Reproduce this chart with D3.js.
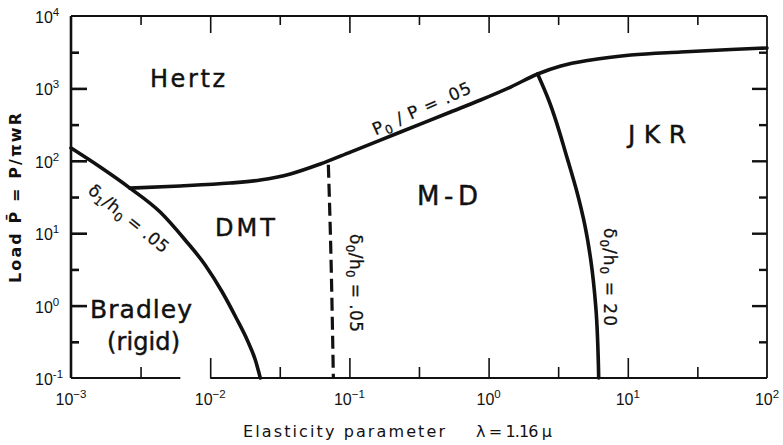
<!DOCTYPE html>
<html><head><meta charset="utf-8">
<script src="https://cdn.jsdelivr.net/npm/d3@7"></script>
<style>
body{margin:0;background:#fff}
svg{display:block;background:#fff}
text{font-family:"DejaVu Sans",sans-serif;fill:#111}
</style>
</head><body>
<svg id="c" width="783" height="445"></svg>
<script>
// ---- tick definitions ----
const xMajorTicks = [0.001, 0.01, 0.1, 1, 10, 100];
const xMinorTicks = [0.00316, 0.0316, 0.316, 3.16, 31.6];
const yMajorTicks = [0.1, 1, 10, 100, 1000, 10000];
const yMinorTicks = [0.316, 3.16, 31.6, 316, 3162];
const xTickExponents = ["−3", "−2", "−1", "0", "1", "2"];
const yTickExponents = ["-1", "0", "1", "2", "3", "4"];
const xAxisBreak = [0.0061, 0.0100];

// ---- boundary curves (lambda, load) ----
const delta1Lambda = [0.001, 0.00162, 0.00265, 0.00437, 0.00661, 0.00920, 0.0122, 0.01538, 0.01845, 0.0211, 0.0229];
const delta1Load   = [150, 82, 42, 19.6, 8.06, 3.64, 1.54, 0.674, 0.335, 0.177, 0.1];

const hertzLambda = [0.00265, 0.00608, 0.0139, 0.0229, 0.0377, 0.0618, 0.1017, 0.233, 0.533, 0.875, 1.44, 2.25, 3.30, 5.42, 10.5, 24.0, 55.1, 100];
const hertzLoad   = [42, 44.9, 49.3, 54.3, 65.8, 90.3, 132, 250, 472, 692, 1045, 1580, 2037, 2466, 2891, 3183, 3446, 3613];

const dashLambda = [0.0706, 0.0730, 0.0767];
const dashLoad   = [88, 10, 0.1];

const jkrLambda = [2.25, 2.70, 3.70, 4.37, 4.91, 5.42, 5.89, 6.18];
const jkrLoad   = [1580, 692, 103, 33.7, 13.0, 4.26, 0.957, 0.1];

// ---- setup ----
const svg = d3.select("#c");
const x = d3.scaleLog().domain([1e-3, 1e2]).range([71, 767]);
const y = d3.scaleLog().domain([0.1, 1e4]).range([378, 16]);
const X0 = x.range()[0], X1 = x.range()[1], Y0 = y.range()[0], Y1 = y.range()[1];

function axis(gen, vals, size, tr, sw) {
  const g = svg.append("g").attr("transform", tr)
    .call(gen.tickValues(vals).tickSize(size).tickFormat(""));
  g.select(".domain").remove();
  g.selectAll("line").attr("stroke", "#111").attr("stroke-width", sw);
  return g;
}
// bottom (ticks up)
axis(d3.axisTop(x), xMajorTicks.slice(1, -1), 20, `translate(0,${Y0})`, 1.6);
axis(d3.axisTop(x), xMinorTicks, 11, `translate(0,${Y0})`, 1.6);
// top (ticks down)
axis(d3.axisBottom(x), xMajorTicks.slice(1, -1), 17, `translate(0,${Y1})`, 1.6);
axis(d3.axisBottom(x), xMinorTicks, 9, `translate(0,${Y1})`, 1.6);
// left (ticks right)
axis(d3.axisRight(y), yMajorTicks.slice(1, -1), 16, `translate(${X0},0)`, 2.6);
axis(d3.axisRight(y), yMinorTicks, 8, `translate(${X0},0)`, 2.6);
// right (ticks left)
axis(d3.axisLeft(y), yMajorTicks.slice(1, -1), 15, `translate(${X1},0)`, 2.4);
axis(d3.axisLeft(y), yMinorTicks, 8, `translate(${X1},0)`, 2.4);

// frame lines
const frame = svg.append("g").attr("stroke", "#111").attr("fill", "none");
frame.append("line").attr("x1", X0).attr("x2", X0).attr("y1", Y1).attr("y2", Y0).attr("stroke-width", 2.6);
frame.append("line").attr("x1", X0).attr("x2", X1).attr("y1", Y1).attr("y2", Y1).attr("stroke-width", 2);
frame.append("line").attr("x1", X1).attr("x2", X1).attr("y1", Y1).attr("y2", Y0).attr("stroke-width", 1.8);
frame.append("line").attr("x1", X0).attr("x2", x(xAxisBreak[0])).attr("y1", Y0).attr("y2", Y0).attr("stroke-width", 2);
frame.append("line").attr("x1", x(xAxisBreak[1])).attr("x2", X1).attr("y1", Y0).attr("y2", Y0).attr("stroke-width", 2);

// tick labels
const tickFont = "'Liberation Sans', Arial, sans-serif";
const xl = svg.append("g").attr("font-size", 16);
xMajorTicks.forEach((v, i) => {
  const t = xl.append("text").attr("x", x(v)).attr("y", 405).attr("text-anchor", "middle").style("font-family", tickFont);
  t.append("tspan").text("10");
  t.append("tspan").attr("font-size", 11.5).attr("dy", -7).text(xTickExponents[i]);
});
const yl = svg.append("g").attr("font-size", 16);
yMajorTicks.forEach((v, i) => {
  const t = yl.append("text").attr("x", 35).attr("y", y(v) + 7).attr("text-anchor", "start").style("font-family", tickFont);
  t.append("tspan").text("10");
  t.append("tspan").attr("font-size", 11.5).attr("dy", -7).text(yTickExponents[i]);
});

// axis titles
svg.append("text").attr("x", 243).attr("y", 437).attr("font-size", 16)
  .attr("textLength", 202).attr("lengthAdjust", "spacing").text("Elasticity parameter");
svg.append("text").attr("x", 476).attr("y", 437).attr("font-size", 16)
  .attr("textLength", 76).attr("lengthAdjust", "spacing").text("λ = 1.16 μ");
svg.append("text").attr("transform", "translate(21,198) rotate(-90)").attr("text-anchor", "middle")
  .attr("font-size", 16).attr("font-weight", "bold")
  .attr("textLength", 170).attr("lengthAdjust", "spacing").text("Load  P\u0304 = P/\u03C0wR");

// curves
const line = d3.line().x(d => x(d[0])).y(d => y(d[1])).curve(d3.curveMonotoneX);
const lineV = d3.line().x(d => x(d[0])).y(d => y(d[1])).curve(d3.curveMonotoneY);
const curves = svg.append("g").attr("fill", "none").attr("stroke", "#111").attr("stroke-linecap", "round");
curves.append("path").attr("d", line(d3.zip(delta1Lambda, delta1Load))).attr("stroke-width", 3.6);
curves.append("path").attr("d", line(d3.zip(hertzLambda, hertzLoad))).attr("stroke-width", 3.6);
curves.append("path").attr("d", lineV(d3.zip(jkrLambda, jkrLoad))).attr("stroke-width", 3.6);
curves.append("path").attr("d", lineV(d3.zip(dashLambda, dashLoad))).attr("stroke-width", 3.2)
  .attr("stroke-linecap", "butt").attr("stroke-dasharray", "13,6");

// region labels
function label(txt, x0, yb, size, len) {
  svg.append("text").attr("x", x0).attr("y", yb).attr("font-size", size)
    .attr("stroke", "#111").attr("stroke-width", 0.45)
    .attr("textLength", len).attr("lengthAdjust", "spacing").text(txt);
}
label("Hertz", 150, 87, 24, 75);
label("JKR", 628, 143, 25, 58);
label("M-D", 417, 205, 26, 61);
label("DMT", 215, 236, 24, 60);
label("Bradley", 90, 318, 25, 102);
label("(rigid)", 107, 350, 24, 73);

// curve labels
function sublabel(parts, tr, len) {
  const t = svg.append("text").attr("transform", tr).attr("text-anchor", "middle").attr("font-size", 17)
    .attr("stroke", "#111").attr("stroke-width", 0.25);
  if (len) t.attr("textLength", len).attr("lengthAdjust", "spacing");
  parts.forEach(p => {
    const s = t.append("tspan").text(p[0]);
    if (p[1] === "sub") s.attr("font-size", 12).attr("dy", 4);
    if (p[1] === "up") s.attr("dy", -4);
  });
}
sublabel([["δ"], ["1", "sub"], ["/h", "up"], ["0", "sub"], [" = .05", "up"]], "translate(125,223) rotate(39)", 98);
sublabel([["P"], ["0", "sub"], [" / P = .05", "up"]], "translate(424,114) rotate(-24)", 106);
sublabel([["δ"], ["0", "sub"], ["/h", "up"], ["0", "sub"], [" = .05", "up"]], "translate(350,283) rotate(90)", 98);
sublabel([["δ"], ["0", "sub"], ["/h", "up"], ["0", "sub"], [" = 20", "up"]], "translate(604,277) rotate(90)", 98);
</script>
</body></html>
